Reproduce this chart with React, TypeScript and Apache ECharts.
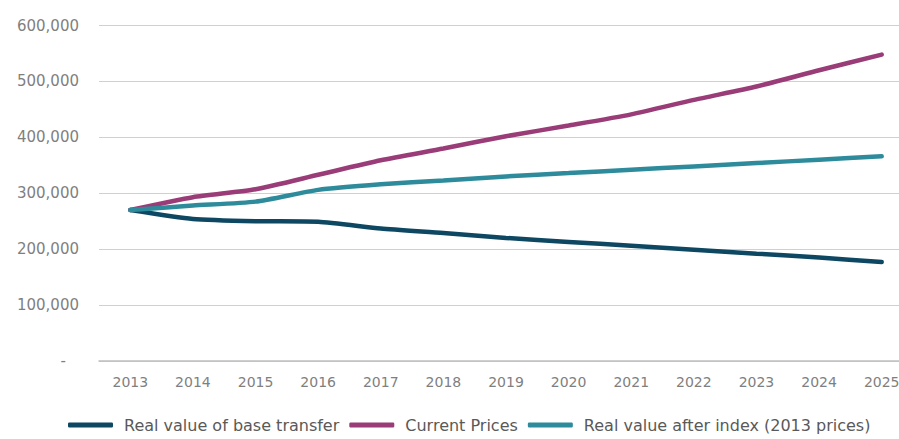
import React, { useEffect, useRef } from "react";
import * as echarts from "echarts";

const years = ["2013", "2014", "2015", "2016", "2017", "2018", "2019", "2020", "2021", "2022", "2023", "2024", "2025"];
const baseTransfer = [270000, 254000, 250000, 249000, 237000, 229000, 220000, 213000, 206000, 199000, 192000, 185000, 177000];
const currentPrices = [270000, 293000, 307000, 333000, 359000, 380000, 402000, 421000, 441000, 467000, 491000, 520000, 548000];
const afterIndex = [270000, 278000, 285000, 306000, 316000, 323000, 330000, 336000, 342000, 348000, 354000, 360000, 366000];
const seriesNames = ["Real value of base transfer", "Current Prices", "Real value after index (2013 prices)"];
const colors = ["#0d4762", "#993c77", "#2d8b9b"];

const FONT = "'DejaVu Sans', 'Noto Sans', sans-serif";

export default function App() {
  const ref = useRef<HTMLDivElement>(null);
  useEffect(() => {
    if (!ref.current) return;
    const chart = echarts.init(ref.current, null, { renderer: "svg" });
    const mk = (name: string, data: number[], color: string) => ({
      name,
      type: "line",
      data,
      smooth: 0.2,
      symbol: "none",
      lineStyle: { width: 4.5, color, cap: "round" },
      itemStyle: { color },
    });
    chart.setOption({
      animation: false,
      color: colors,
      grid: { left: 99, right: 0, top: 25.5, height: 335.5, containLabel: false },
      xAxis: {
        type: "category",
        data: years,
        boundaryGap: true,
        axisTick: { show: false },
        axisLine: { lineStyle: { color: "#bfbfbf", width: 1.5 } },
        axisLabel: { color: "#7f7f7f", fontSize: 14, fontFamily: FONT, margin: 14 },
      },
      yAxis: {
        type: "value",
        min: 0,
        max: 600000,
        interval: 100000,
        axisLine: { show: false },
        axisTick: { show: false },
        splitLine: { lineStyle: { color: "#d0d0d0", width: 1 } },
        axisLabel: {
          color: "#7f7f7f",
          fontSize: 15,
          fontFamily: FONT,
          margin: 20,
          formatter: (v: number) => (v === 0 ? "{z|-}" : v.toLocaleString("en-US")),
          rich: { z: { color: "#7f7f7f", fontSize: 15, fontFamily: FONT, padding: [0, 13, 0, 0] } },
        },
      },
      legend: {
        left: 63,
        bottom: 1,
        icon: "roundRect",
        itemWidth: 45,
        itemHeight: 5,
        itemGap: 10,
        textStyle: { color: "#595959", fontSize: 16, fontFamily: FONT, padding: [0, 0, 0, 6] },
        data: seriesNames,
      },
      series: [
        mk(seriesNames[0], baseTransfer, colors[0]),
        mk(seriesNames[1], currentPrices, colors[1]),
        mk(seriesNames[2], afterIndex, colors[2]),
      ],
    });
    return () => chart.dispose();
  }, []);
  return (
    <div style={{ position: "absolute", left: 0, top: 0, width: 899, height: 439, overflow: "hidden" }}>
      <div ref={ref} style={{ width: 913, height: 439 }} />
    </div>
  );
}
